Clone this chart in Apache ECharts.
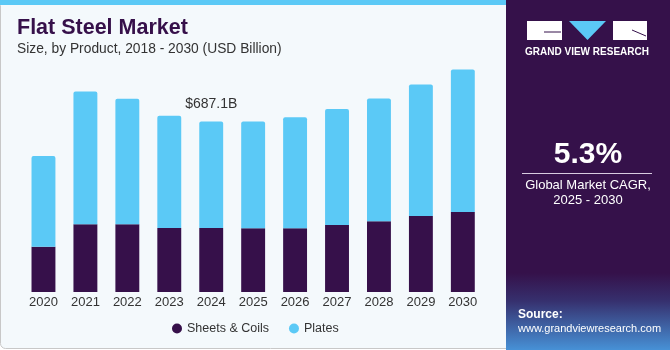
<!DOCTYPE html>
<html>
<head>
<meta charset="utf-8">
<script src="https://cdn.jsdelivr.net/npm/echarts@6/dist/echarts.min.js"></script>
<style>
  html, body { margin: 0; padding: 0; background: #ffffff; }
  #chart { width: 670px; height: 350px; }
</style>
</head>
<body>
<div id="chart"></div>
<script>
// 年份
var years = ['2020', '2021', '2022', '2023', '2024', '2025', '2026', '2027', '2028', '2029', '2030']
// Sheets & Coils (USD Billion)
var sheetsCoils = [182.8, 273.2, 273.2, 258.2, 258.2, 257.0, 257.0, 270.3, 285.3, 306.7, 322.8]
// Plates (USD Billion)
var plates = [366.0, 535.0, 505.6, 452.0, 428.9, 430.1, 447.9, 468.1, 494.7, 529.8, 574.2]
// 标注的年份
var labelYear = '2024'

var purple = '#36104a'
var blue = '#5bc9f6'
var font = '"Liberation Sans", Arial, sans-serif'

var chart = echarts.init(document.getElementById('chart'))
var option = {
  backgroundColor: '#ffffff',
  animation: false,
  textStyle: { fontFamily: font },
  graphic: [
    // 卡片背景
    {
      type: 'rect', z: -10, silent: true,
      shape: { x: 0.5, y: 0.5, width: 540, height: 348, r: 5 },
      style: { fill: '#f4f9fc', stroke: '#c8c8c8', lineWidth: 1 }
    },
    {
      type: 'rect', z: -9, silent: true,
      shape: { x: 0, y: 0, width: 506, height: 5 },
      style: { fill: blue }
    },
    // 右侧面板
    {
      type: 'rect', z: -8, silent: true,
      shape: { x: 506, y: 0, width: 164, height: 350 },
      style: {
        fill: new echarts.graphic.LinearGradient(0, 0, 0, 1, [
          { offset: 0, color: '#35114a' },
          { offset: 0.78, color: '#35114a' },
          { offset: 0.86, color: '#36306e' },
          { offset: 1, color: '#4791d6' }
        ])
      }
    },
    // logo
    {
      type: 'rect', silent: true,
      shape: { x: 527, y: 21, width: 35, height: 19 },
      style: { fill: '#ffffff' }
    },
    {
      type: 'polyline', silent: true,
      shape: { points: [[544, 32], [561, 32]] },
      style: { stroke: '#35114a', lineWidth: 1 }
    },
    {
      type: 'polygon', silent: true,
      shape: { points: [[569, 21], [606, 21], [587.5, 40]] },
      style: { fill: blue }
    },
    {
      type: 'rect', silent: true,
      shape: { x: 613, y: 21, width: 34, height: 19 },
      style: { fill: '#ffffff' }
    },
    {
      type: 'polyline', silent: true,
      shape: { points: [[632, 30], [646, 36]] },
      style: { stroke: '#35114a', lineWidth: 1 }
    },
    {
      type: 'text', silent: true,
      style: {
        x: 587, y: 52, text: 'GRAND VIEW RESEARCH', fill: '#ffffff',
        font: 'bold 10px ' + font, align: 'center', verticalAlign: 'middle'
      }
    },
    {
      type: 'text', silent: true,
      style: {
        x: 588, y: 155, text: '5.3%', fill: '#ffffff',
        font: 'bold 30px ' + font, align: 'center', verticalAlign: 'middle'
      }
    },
    {
      type: 'polyline', silent: true,
      shape: { points: [[522, 173.5], [652, 173.5]] },
      style: { stroke: '#d8cce0', lineWidth: 1 }
    },
    {
      type: 'text', silent: true,
      style: {
        x: 588, y: 185, text: 'Global Market CAGR,', fill: '#ffffff',
        font: '13px ' + font, align: 'center', verticalAlign: 'middle'
      }
    },
    {
      type: 'text', silent: true,
      style: {
        x: 588, y: 200, text: '2025 - 2030', fill: '#ffffff',
        font: '13px ' + font, align: 'center', verticalAlign: 'middle'
      }
    },
    {
      type: 'text', silent: true,
      style: {
        x: 518, y: 315, text: 'Source:', fill: '#ffffff',
        font: 'bold 12px ' + font, verticalAlign: 'middle'
      }
    },
    {
      type: 'text', silent: true,
      style: {
        x: 518, y: 329, text: 'www.grandviewresearch.com', fill: '#ffffff',
        font: '11px ' + font, verticalAlign: 'middle'
      }
    },
    // 标题
    {
      type: 'text', silent: true,
      style: {
        x: 17, y: 28.5, text: 'Flat Steel Market', fill: purple,
        font: '900 21.5px ' + font, verticalAlign: 'middle'
      }
    },
    {
      type: 'text', silent: true,
      style: {
        x: 17, y: 49, text: 'Size, by Product, 2018 - 2030 (USD Billion)', fill: '#333333',
        font: '13.8px ' + font, verticalAlign: 'middle'
      }
    }
  ],
  legend: {
    left: 172,
    top: 322,
    padding: 0,
    itemWidth: 10,
    itemHeight: 10,
    itemGap: 20,
    icon: 'circle',
    textStyle: { fontSize: 12.5, color: '#333333', fontFamily: font },
    data: ['Sheets & Coils', 'Plates']
  },
  grid: {
    left: 22.5,
    right: 186.2,
    top: 44,
    bottom: 58,
    containLabel: false
  },
  xAxis: {
    type: 'category',
    data: years,
    axisLine: { show: false },
    axisTick: { show: false },
    axisLabel: { color: '#333333', fontSize: 13, margin: 4, fontFamily: font }
  },
  yAxis: {
    type: 'value',
    min: 0,
    max: 1000,
    show: false,
    splitLine: { show: false }
  },
  series: [
    {
      name: 'Sheets & Coils',
      type: 'bar',
      stack: 'total',
      barWidth: '57%',
      itemStyle: { color: purple },
      data: sheetsCoils
    },
    {
      name: 'Plates',
      type: 'bar',
      stack: 'total',
      barWidth: '57%',
      itemStyle: { color: blue, borderRadius: [2, 2, 0, 0] },
      label: {
        show: true,
        position: 'top',
        distance: 10,
        color: '#333333',
        fontSize: 14,
        fontFamily: font,
        formatter: function (p) {
          if (years[p.dataIndex] !== labelYear) return ''
          var total = sheetsCoils[p.dataIndex] + plates[p.dataIndex]
          return '$' + total.toFixed(1) + 'B'
        }
      },
      data: plates
    }
  ]
}
chart.setOption(option)
</script>
</body>
</html>
